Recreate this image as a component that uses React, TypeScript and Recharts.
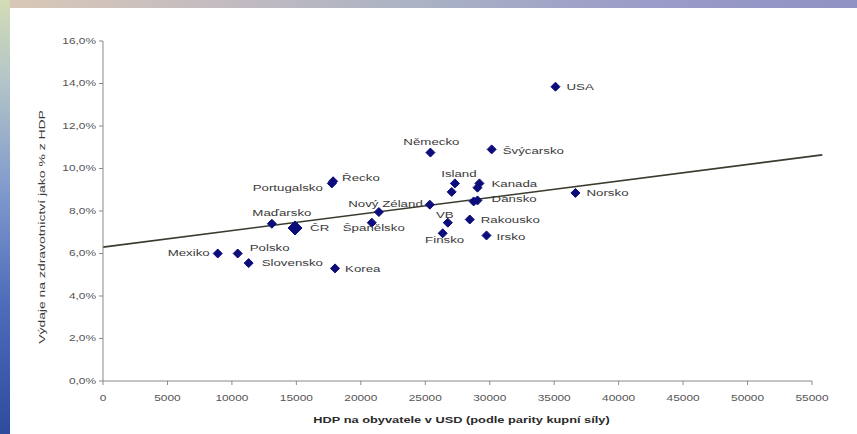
import React from 'react';
import { ScatterChart, Scatter, XAxis, YAxis, ReferenceLine } from 'recharts';

// Countries with GDP per capita (USD, PPP) and health expenditure as % of GDP
const countries = [
  'USA', 'Švýcarsko', 'Německo', 'Island', 'Nizozemsko', 'Kanada', 'Austrálie', 'Belgie',
  'Dánsko', 'Norsko', 'Nový Zéland', 'Itálie', 'Španělsko', 'VB', 'Finsko', 'Rakousko',
  'Irsko', 'Maďarsko', 'ČR', 'Mexiko', 'Polsko', 'Slovensko', 'Korea', 'Portugalsko', 'Řecko',
];
const gdpPerCapita = [
  35100, 30150, 25400, 27300, 27050, 29200, 29050, 29050,
  28750, 36650, 25350, 21400, 20850, 26750, 26350, 28450,
  29750, 13100, 14900, 8900, 10450, 11300, 18000, 17750, 17850,
];
const healthSpendPct = [
  13.85, 10.9, 10.75, 9.3, 8.9, 9.3, 9.1, 8.5,
  8.45, 8.85, 8.3, 7.95, 7.45, 7.45, 6.95, 7.6,
  6.85, 7.4, 7.2, 6.0, 6.0, 5.55, 5.3, 9.3, 9.4,
];

// Linear trend line end points
const trendGdp = [0, 55800];
const trendPct = [6.3, 10.64];

const xTicks = [0, 5000, 10000, 15000, 20000, 25000, 30000, 35000, 40000, 45000, 50000, 55000];
const yTicks = [0, 2, 4, 6, 8, 10, 12, 14, 16];

const xTitle = 'HDP na obyvatele v USD (podle parity kupní síly)';
const yTitle = 'Výdaje na zdravotnictví jako % z HDP';

// Label offsets relative to each marker: [dx, dy, anchor]
type Anchor = 'start' | 'middle' | 'end';
const labelPlacement: Record<string, [number, number, Anchor]> = {
  USA: [11, 0, 'start'],
  'Švýcarsko': [11, 1, 'start'],
  'Německo': [1, -11, 'middle'],
  Island: [4, -10, 'middle'],
  Kanada: [12, 0, 'start'],
  'Dánsko': [18, -3, 'start'],
  Norsko: [11, 0, 'start'],
  'Nový Zéland': [-7, -1, 'end'],
  'Španělsko': [2, 5, 'middle'],
  VB: [-3, -8, 'middle'],
  Finsko: [2, 6, 'middle'],
  Rakousko: [11, 0, 'start'],
  Irsko: [10, 1, 'start'],
  'Maďarsko': [10, -11, 'middle'],
  'ČR': [15, 0, 'start'],
  Mexiko: [-8, -1, 'end'],
  Polsko: [12, -6, 'start'],
  Slovensko: [13, 0, 'start'],
  Korea: [10, 0, 'start'],
  Portugalsko: [-9, 4, 'end'],
  'Řecko': [9, -4, 'start'],
};
const emphasized = new Set(['ČR']);

const points = countries.map((name, i) => ({ name, gdp: gdpPerCapita[i], pct: healthSpendPct[i] }));

const FONT = "'Liberation Sans', Arial, sans-serif";

function WideText({ x, y, text, anchor = 'start', size = 9.5, sx = 1.4, weight = 'normal', fill = '#3a3a3a' }: any) {
  return (
    <text
      transform={`translate(${x},${y}) scale(${sx},1)`}
      textAnchor={anchor}
      dominantBaseline="central"
      fontSize={size}
      fontFamily={FONT}
      fontWeight={weight}
      fill={fill}
    >
      {text}
    </text>
  );
}

function CountryMark(props: any) {
  const { cx, cy, payload } = props;
  if (cx == null || cy == null) return null;
  const r = emphasized.has(payload.name) ? 7 : 4.5;
  const place = labelPlacement[payload.name];
  return (
    <g>
      <path
        d={`M${cx},${cy - r} L${cx + r},${cy} L${cx},${cy + r} L${cx - r},${cy} Z`}
        fill="#0c0c7a"
        stroke="#0c0c7a"
        strokeWidth={1}
      />
      {place && <WideText x={cx + place[0]} y={cy + place[1]} text={payload.name} anchor={place[2]} />}
    </g>
  );
}

function XTick(props: any) {
  const { x, y, payload } = props;
  return <WideText x={x} y={y + 11} text={String(payload.value)} anchor="middle" size={8.5} sx={1.4} fill="#555" />;
}

function YTick(props: any) {
  const { x, y, payload } = props;
  const label = payload.value.toFixed(1).replace('.', ',') + '%';
  return <WideText x={x - 1} y={y} text={label} anchor="end" size={8.5} sx={1.4} fill="#555" />;
}

function XTitle(props: any) {
  const { viewBox } = props;
  return (
    <WideText
      x={viewBox.x + viewBox.width / 2 + 4}
      y={viewBox.y + 39}
      text={xTitle}
      anchor="middle"
      size={9.5}
      sx={1.35}
      weight="bold"
      fill="#2a2a2a"
    />
  );
}

function YTitle(props: any) {
  const { viewBox } = props;
  const cx = viewBox.x + 42;
  const cy = viewBox.y + viewBox.height / 2 + 16;
  return (
    <text
      transform={`translate(${cx},${cy}) rotate(-90) scale(1.55,1)`}
      textAnchor="middle"
      dominantBaseline="central"
      fontSize={9}
      fontFamily={FONT}
      fill="#3a3a3a"
    >
      {yTitle}
    </text>
  );
}

export default function App() {
  return (
    <div style={{ position: 'absolute', left: 0, top: 0, width: 857, height: 434, background: '#ffffff', overflow: 'hidden' }}>
      <div
        style={{
          position: 'absolute', left: 0, top: 0, width: 857, height: 8,
          background: 'linear-gradient(to right, #d9c9b6 0%, #c4bcc0 25%, #a9b2c4 50%, #9c9cc8 75%, #8f92c2 100%)',
        }}
      />
      <div
        style={{
          position: 'absolute', left: 0, top: 0, width: 10, height: 434,
          background: 'linear-gradient(to bottom, #d3dcb6 0%, #b4c6c8 18%, #7e98cc 45%, #4d6cba 70%, #2e4c9e 100%)',
        }}
      />
      <div style={{ position: 'absolute', left: 0, top: 0 }}>
        <ScatterChart width={857} height={434} margin={{ top: 41, right: 45, left: 0, bottom: 0 }}>
          <XAxis
            type="number"
            dataKey="gdp"
            domain={[0, 55000]}
            ticks={xTicks}
            interval={0}
            height={53}
            stroke="#8a8a8a"
            tickSize={4}
            tickMargin={2}
            tick={<XTick />}
            label={{ content: <XTitle /> }}
          />
          <YAxis
            type="number"
            dataKey="pct"
            domain={[0, 16]}
            ticks={yTicks}
            interval={0}
            width={103}
            stroke="#8a8a8a"
            tickSize={4}
            tickMargin={2}
            tick={<YTick />}
            label={{ content: <YTitle /> }}
          />
          <ReferenceLine
            segment={[
              { x: trendGdp[0], y: trendPct[0] },
              { x: trendGdp[1], y: trendPct[1] },
            ]}
            stroke="#3a3a2e"
            strokeWidth={1.6}
            ifOverflow="visible"
          />
          <Scatter data={points} isAnimationActive={false} shape={(p: any) => <CountryMark {...p} />} />
        </ScatterChart>
      </div>
    </div>
  );
}
